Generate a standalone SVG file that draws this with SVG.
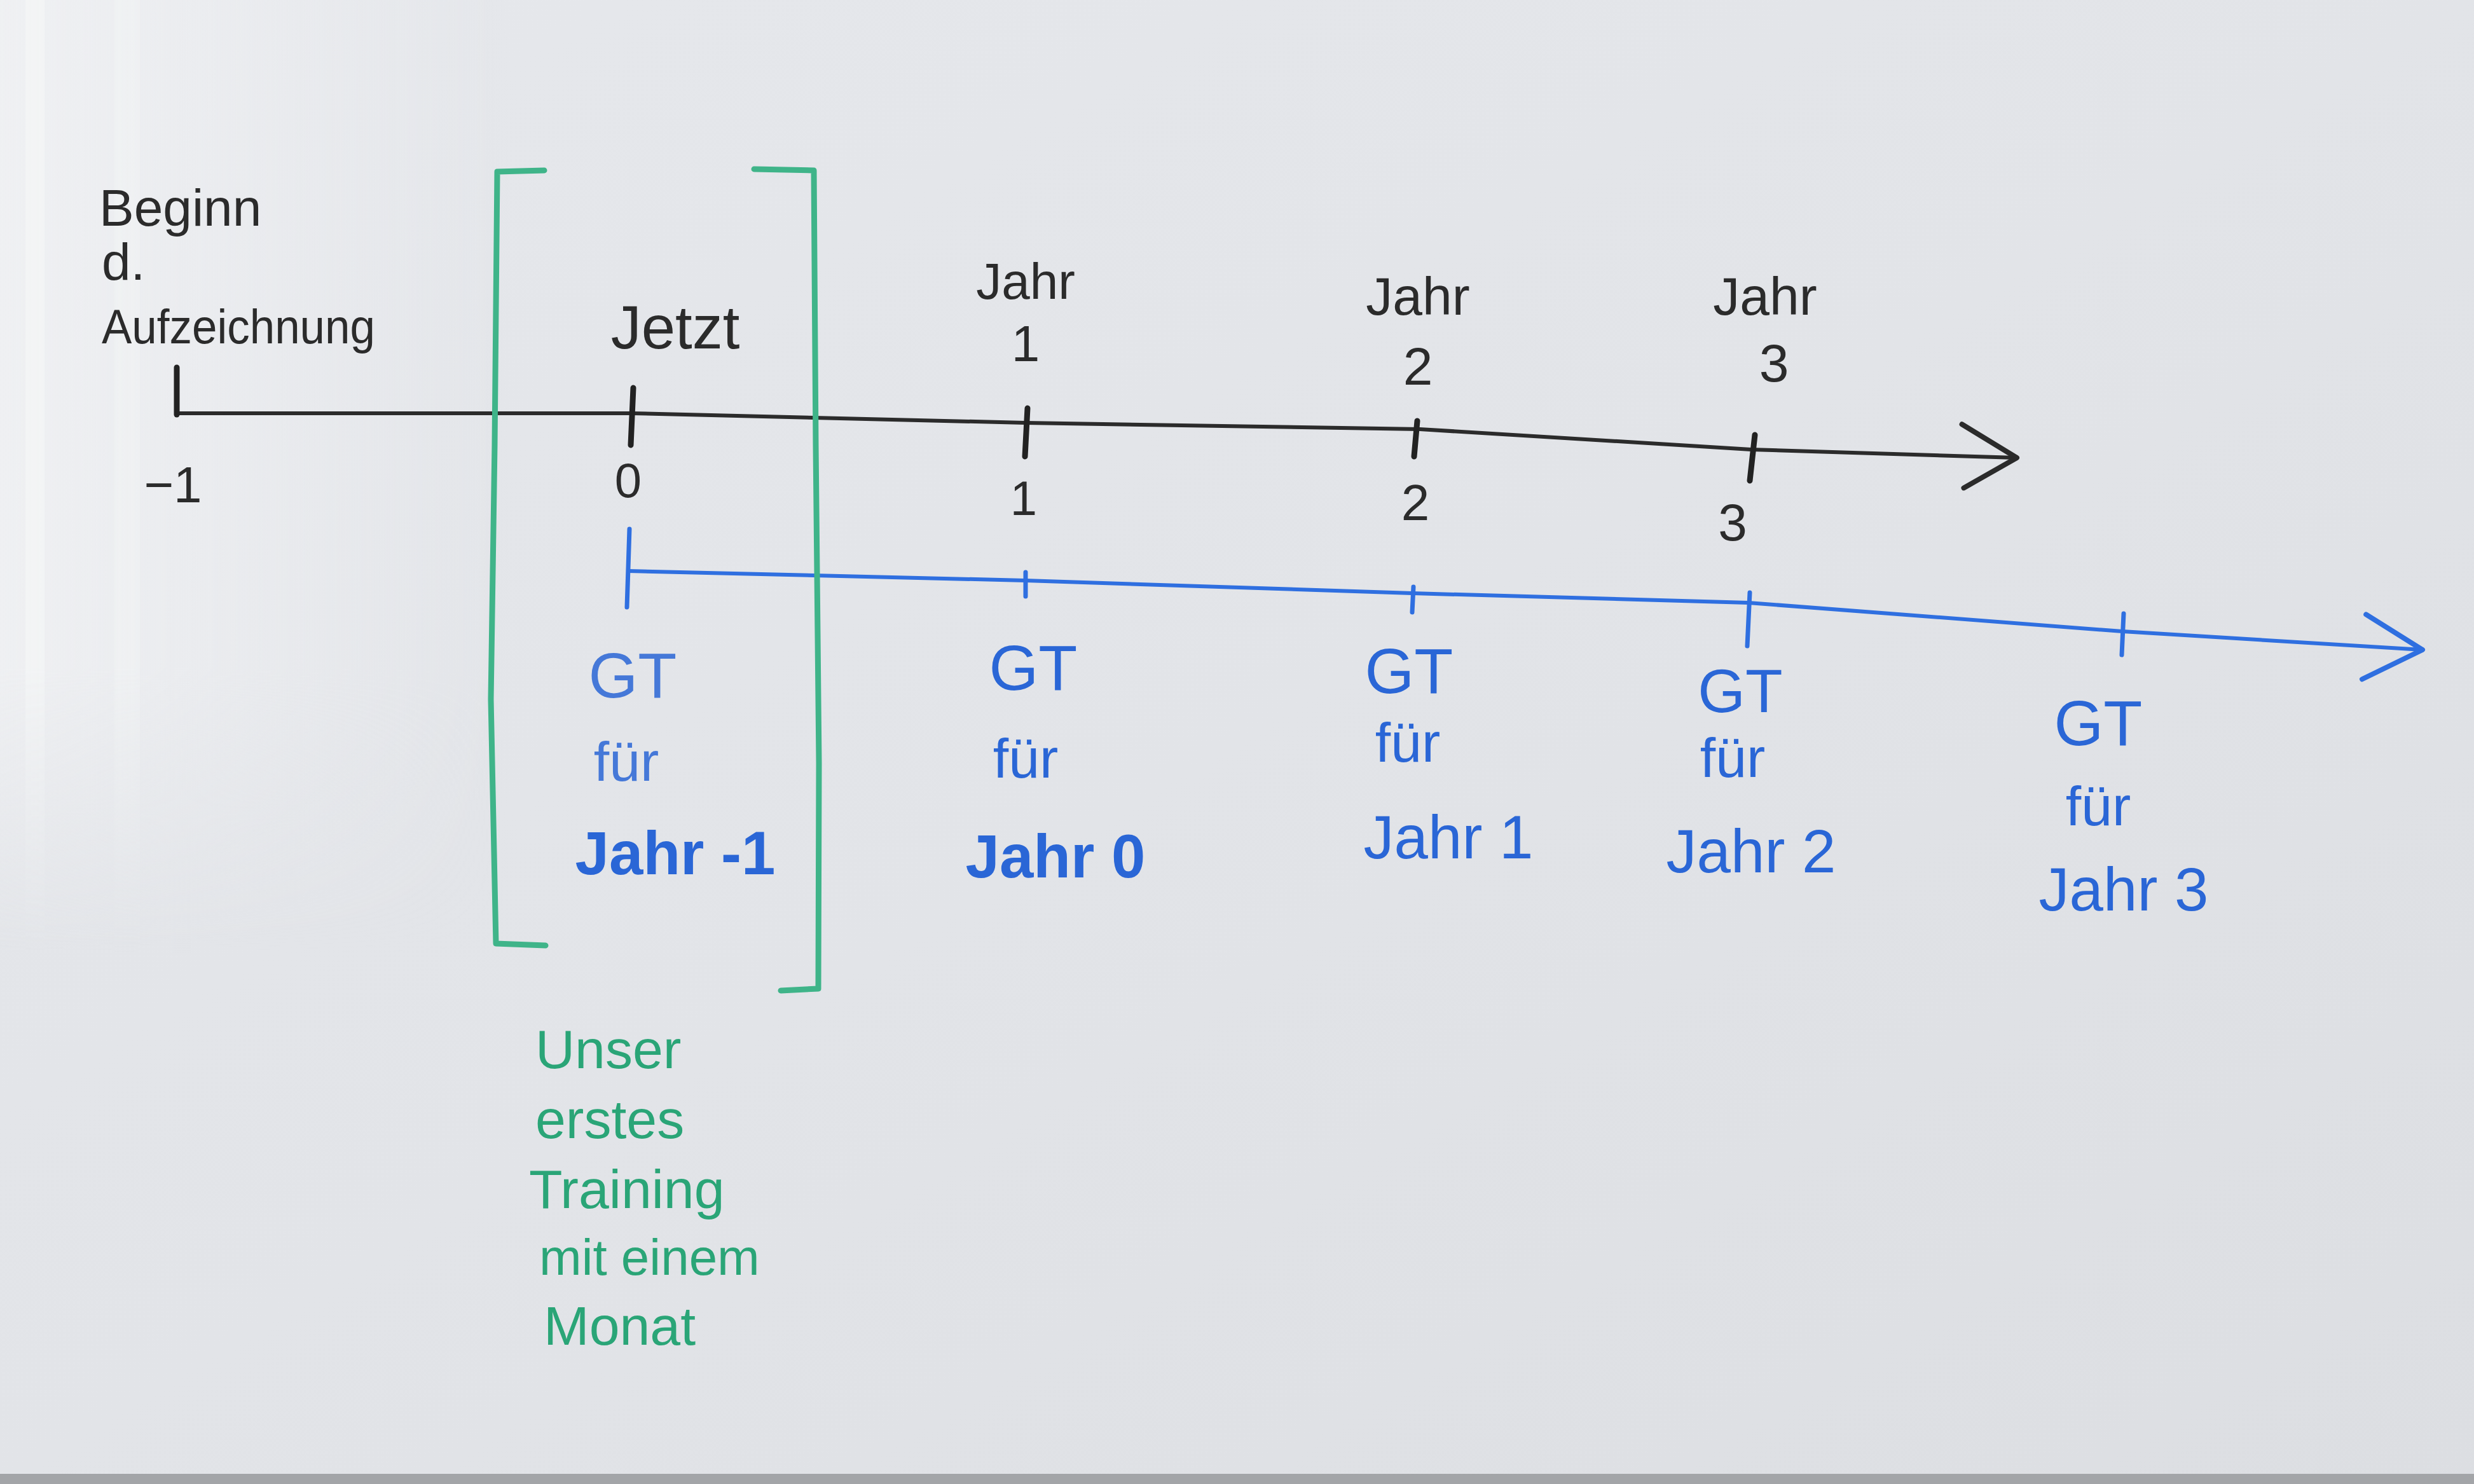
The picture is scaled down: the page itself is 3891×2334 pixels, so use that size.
<svg xmlns="http://www.w3.org/2000/svg" width="3891" height="2334" viewBox="0 0 3891 2334">
<defs>
<linearGradient id="bg" x1="0" y1="0" x2="1" y2="1">
<stop offset="0" stop-color="#e6e8ec"/>
<stop offset="0.5" stop-color="#e2e4e8"/>
<stop offset="1" stop-color="#dcdee2"/>
</linearGradient>
<linearGradient id="lft" x1="0" y1="0" x2="1" y2="0">
<stop offset="0" stop-color="#f1f2f4" stop-opacity="0.8"/>
<stop offset="1" stop-color="#f1f2f4" stop-opacity="0"/>
</linearGradient>
<linearGradient id="lftv" x1="0" y1="0" x2="0" y2="1">
<stop offset="0" stop-color="#fff" stop-opacity="1"/>
<stop offset="0.7" stop-color="#fff" stop-opacity="1"/>
<stop offset="1" stop-color="#fff" stop-opacity="0"/>
</linearGradient>
<mask id="lm"><rect x="0" y="0" width="800" height="1500" fill="url(#lftv)"/></mask>
<marker id="arrK" viewBox="-100 -60 110 120" markerWidth="110" markerHeight="120" refX="0" refY="0" orient="auto" markerUnits="userSpaceOnUse">
<path d="M-88,-50 L0,0 L-82,50" fill="none" stroke="#2b2b2b" stroke-width="8" stroke-linecap="round" stroke-linejoin="round"/>
</marker>
<marker id="arrB" viewBox="-100 -60 110 120" markerWidth="110" markerHeight="120" refX="0" refY="0" orient="auto" markerUnits="userSpaceOnUse">
<path d="M-92,-50 L0,0 L-92,52" fill="none" stroke="#2f6fe0" stroke-width="8" stroke-linecap="round" stroke-linejoin="round"/>
</marker>
<style>
.k{font-family:"Liberation Sans","DejaVu Sans",sans-serif;fill:#2b2b2b;text-anchor:middle}
.b{font-family:"Liberation Sans","DejaVu Sans",sans-serif;fill:#2a66d6;text-anchor:middle}
.g{font-family:"Liberation Sans","DejaVu Sans",sans-serif;fill:#2aa577;text-anchor:start}
.axk{fill:none;stroke:#2b2b2b;stroke-width:6;stroke-linecap:round;stroke-linejoin:round}
.tk{fill:none;stroke:#222;stroke-width:9;stroke-linecap:round}
.axb{fill:none;stroke:#2f6fe0;stroke-width:6;stroke-linecap:round;stroke-linejoin:round}
.tb{fill:none;stroke:#2f6fe0;stroke-width:7;stroke-linecap:round}
.br{fill:none;stroke:#3fb489;stroke-width:9;stroke-linecap:round;stroke-linejoin:round}
</style>
</defs>
<rect x="0" y="0" width="3891" height="2334" fill="url(#bg)"/>
<g mask="url(#lm)">
<rect x="0" y="0" width="800" height="1500" fill="url(#lft)"/>
<rect x="40" y="0" width="30" height="1500" fill="#f5f6f7" opacity="0.6"/>
<rect x="180" y="0" width="40" height="1500" fill="#f3f4f6" opacity="0.4"/>
</g>
<rect x="0" y="2318" width="3891" height="16" fill="#a3a5a8"/>

<g id="connectors">
<polyline class="axk" points="278,650 993,650 1613,665 2233,675 2754,707 3172,720" marker-end="url(#arrK)"/>
<polyline class="axb" points="988,898 1613,913 2221,933 2750,948 3338,993 3810,1022" marker-end="url(#arrB)"/>
</g>

<g id="ticks-black">
<line class="tk" x1="278" y1="578" x2="278" y2="652"/>
<line class="tk" x1="996" y1="610" x2="992" y2="700"/>
<line class="tk" x1="1616" y1="642" x2="1612" y2="718"/>
<line class="tk" x1="2229" y1="662" x2="2224" y2="718"/>
<line class="tk" x1="2760" y1="684" x2="2752" y2="756"/>
</g>
<g id="ticks-blue">
<line class="tb" x1="990" y1="832" x2="986" y2="955"/>
<line class="tb" x1="1613" y1="900" x2="1613" y2="938"/>
<line class="tb" x1="2223" y1="923" x2="2221" y2="963"/>
<line class="tb" x1="2752" y1="932" x2="2748" y2="1016"/>
<line class="tb" x1="3340" y1="965" x2="3337" y2="1030"/>
</g>

<g id="node-beginn">
<text class="k" style="text-anchor:start" x="156" y="355" font-size="82">Beginn</text>
<text class="k" style="text-anchor:start" x="160" y="440" font-size="82">d.</text>
<text class="k" style="text-anchor:start" x="160" y="540" font-size="76" textLength="430" lengthAdjust="spacingAndGlyphs">Aufzeichnung</text>
</g>
<g id="label-m1"><text class="k" x="272" y="790" font-size="80">−1</text></g>
<g id="node-jetzt"><text class="k" x="1062" y="548" font-size="96">Jetzt</text></g>
<g id="label-0"><text class="k" x="988" y="782" font-size="76">0</text></g>
<g id="node-jahr1">
<text class="k" x="1613" y="470" font-size="80">Jahr</text>
<text class="k" x="1613" y="568" font-size="80">1</text>
</g>
<g id="label-1"><text class="k" x="1610" y="810" font-size="76">1</text></g>
<g id="node-jahr2">
<text class="k" x="2230" y="495" font-size="84">Jahr</text>
<text class="k" x="2230" y="605" font-size="84">2</text>
</g>
<g id="label-2"><text class="k" x="2226" y="818" font-size="80">2</text></g>
<g id="node-jahr3">
<text class="k" x="2776" y="495" font-size="84">Jahr</text>
<text class="k" x="2790" y="600" font-size="84">3</text>
</g>
<g id="label-3"><text class="k" x="2725" y="850" font-size="82">3</text></g>

<g id="node-gt-m1">
<text class="b" x="995" y="1097" font-size="100" opacity="0.85">GT</text>
<text class="b" x="985" y="1228" font-size="88" opacity="0.85">für</text>
<text class="b" x="1062" y="1375" font-size="96" font-weight="bold">Jahr -1</text>
</g>
<g id="node-gt-0">
<text class="b" x="1625" y="1085" font-size="100">GT</text>
<text class="b" x="1613" y="1223" font-size="88">für</text>
<text class="b" x="1660" y="1380" font-size="96" font-weight="bold">Jahr 0</text>
</g>
<g id="node-gt-1">
<text class="b" x="2216" y="1090" font-size="100">GT</text>
<text class="b" x="2214" y="1198" font-size="88">für</text>
<text class="b" x="2278" y="1350" font-size="96">Jahr 1</text>
</g>
<g id="node-gt-2">
<text class="b" x="2737" y="1120" font-size="96">GT</text>
<text class="b" x="2725" y="1222" font-size="88">für</text>
<text class="b" x="2754" y="1372" font-size="96">Jahr 2</text>
</g>
<g id="node-gt-3">
<text class="b" x="3300" y="1172" font-size="100">GT</text>
<text class="b" x="3300" y="1298" font-size="88">für</text>
<text class="b" x="3340" y="1432" font-size="96">Jahr 3</text>
</g>

<g id="node-bracket">
<polyline class="br" points="856,268 782,270 778,700 772,1100 780,1484 858,1487"/>
<polyline class="br" points="1186,266 1280,268 1283,700 1288,1200 1287,1555 1228,1558"/>
</g>

<g id="node-training">
<text class="g" x="842" y="1680" font-size="86">Unser</text>
<text class="g" x="842" y="1790" font-size="86">erstes</text>
<text class="g" x="832" y="1900" font-size="86">Training</text>
<text class="g" x="848" y="2005" font-size="80">mit einem</text>
<text class="g" x="855" y="2115" font-size="86">Monat</text>
</g>
</svg>
